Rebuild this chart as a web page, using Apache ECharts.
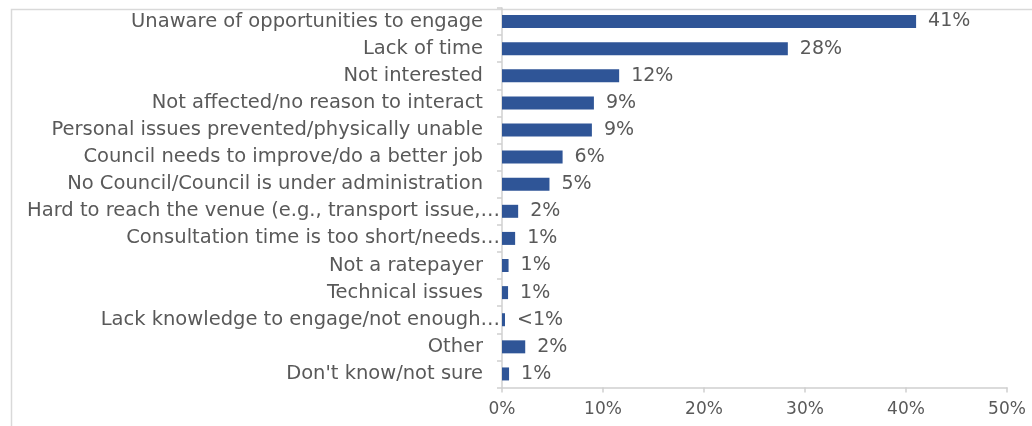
<!DOCTYPE html>
<html>
<head>
<meta charset="utf-8">
<script src="https://cdn.jsdelivr.net/npm/echarts@6/dist/echarts.min.js"></script>
<style>
html,body{margin:0;padding:0;background:#fff;}
#c{width:1032px;height:426px;}
</style>
</head>
<body>
<div id="c"></div>
<script>
const categories = [
  "Unaware of opportunities to engage",
  "Lack of time",
  "Not interested",
  "Not affected/no reason to interact",
  "Personal issues prevented/physically unable",
  "Council needs to improve/do a better job",
  "No Council/Council is under administration",
  "Hard to reach the venue (e.g., transport issue,…",
  "Consultation time is too short/needs…",
  "Not a ratepayer",
  "Technical issues",
  "Lack knowledge to engage/not enough…",
  "Other",
  "Don't know/not sure"
];
const values = [41.0, 28.3, 11.6, 9.1, 8.9, 6.0, 4.7, 1.6, 1.3, 0.65, 0.6, 0.3, 2.3, 0.7];
const valueLabels = ["41%", "28%", "12%", "9%", "9%", "6%", "5%", "2%", "1%", "1%", "1%", "<1%", "2%", "1%"];
const xTicks = [0, 10, 20, 30, 40, 50];

const FONT = "DejaVu Sans";
const chart = echarts.init(document.getElementById('c'), null, {renderer: 'canvas'});
chart.setOption({
  animation: false,
  backgroundColor: '#fff',
  graphic: [{
    type: 'rect', left: 9, top: 7, silent: true,
    shape: {width: 1100, height: 600},
    style: {fill: 'none', stroke: '#d9d9d9', lineWidth: 1.5}
  }],
  grid: {left: 502, right: 25, top: 8, bottom: 38.5, containLabel: false},
  xAxis: {
    type: 'value', min: xTicks[0], max: xTicks[xTicks.length - 1], interval: 10,
    splitLine: {show: false},
    axisLine: {show: true, lineStyle: {color: '#d0d0d0', width: 1.5}},
    axisTick: {show: true, length: 5, lineStyle: {color: '#d0d0d0', width: 1.5}},
    axisLabel: {formatter: '{value}%', color: '#595959', fontFamily: FONT, fontSize: 17, margin: 14}
  },
  yAxis: {
    type: 'category', data: categories, inverse: true,
    axisLine: {show: true, lineStyle: {color: '#d0d0d0', width: 1.5}},
    axisTick: {show: true, length: 5, lineStyle: {color: '#d0d0d0', width: 1.5}},
    axisLabel: {
      margin: 2,
      formatter: function (v) {
        return v.endsWith('…') ? '{t|' + v + '}' : '{t|' + v + '}{g|}';
      },
      rich: {
        t: {color: '#595959', fontFamily: FONT, fontSize: 19.5},
        g: {width: 17}
      }
    }
  },
  series: [{
    type: 'bar', data: values, barWidth: 13,
    itemStyle: {color: '#2F5597'},
    label: {
      show: true, position: 'right', distance: 12,
      color: '#595959', fontFamily: FONT, fontSize: 19,
      formatter: function (p) { return valueLabels[p.dataIndex]; }
    }
  }]
});
</script>
</body>
</html>
